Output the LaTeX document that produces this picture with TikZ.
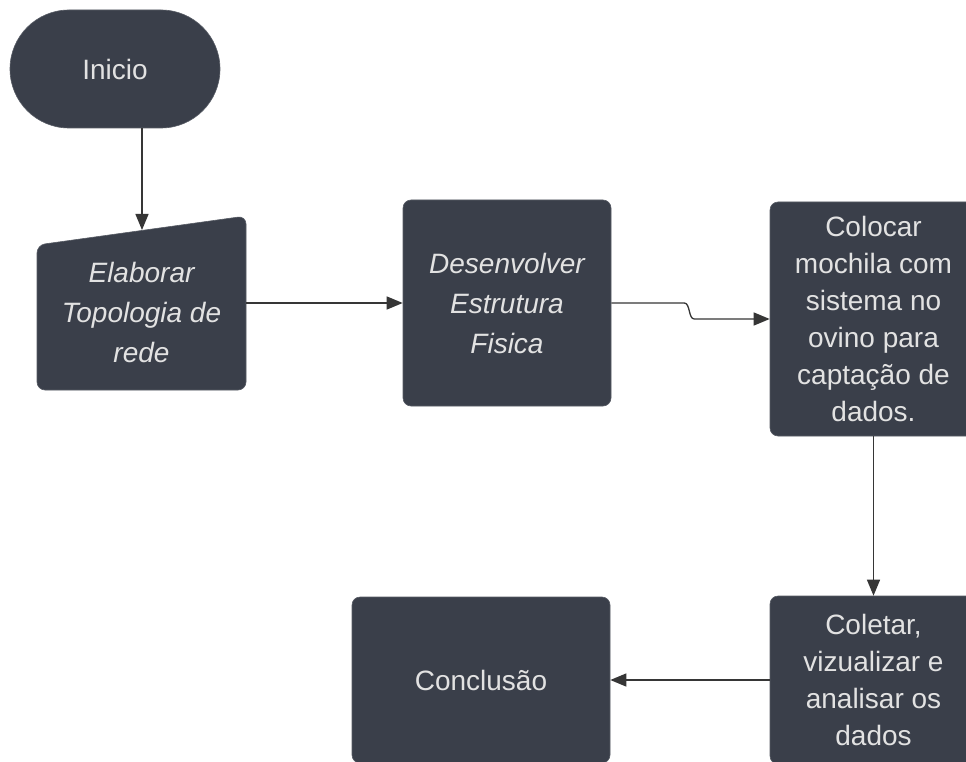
\documentclass[tikz,border=0pt]{standalone}
\usepackage{fontspec}
\setmainfont{Liberation Sans}
\usetikzlibrary{arrows.meta}
\definecolor{boxfill}{HTML}{3A3F4A}
\definecolor{boxtext}{HTML}{E2E2E2}
\definecolor{linecol}{HTML}{363636}
\tikzset{
  stepbox/.style={fill=boxfill, draw=boxfill!85!white, line width=0.6pt, rounded corners=8pt,
    text=boxtext, align=center, inner sep=0pt, font=\fontsize{28}{37}\selectfont},
  slanted/.style={font=\itshape\fontsize{28}{40}\selectfont},
  flow/.style={draw=linecol, line width=1.3pt, -{Triangle[length=16pt,width=13pt]}},
}

\begin{document}
\begin{tikzpicture}[x=1pt,y=-1pt]
    \useasboundingbox[fill=white] (0,0) rectangle (966,762);
    \clip (0,0) rectangle (966,762);
    % terminal
    \node[stepbox, rounded corners=59pt, minimum width=210pt, minimum height=118pt] (inicio) at (115,69) {Inicio};
    % manual input shape
    \filldraw[fill=boxfill, draw=boxfill!85!white, line width=0.6pt, rounded corners=8pt] (37,245) -- (246,216) -- (246,390) -- (37,390) -- cycle;
    \node[text=boxtext, align=center, inner sep=0pt, slanted, minimum width=209pt] (elab) at (141.5,312) {Elaborar\\Topologia de\\rede};
    \coordinate (elabtop) at (142,230);
    \node[stepbox, slanted, minimum width=208pt, minimum height=206pt] (des) at (507,303) {Desenvolver\\Estrutura\\Fisica};
    \node[stepbox, minimum width=207pt, minimum height=234pt] (col) at (873.5,319) {Colocar\\mochila com\\sistema no\\ovino para\\capta\c{c}\~ao de\\dados.};
    \node[stepbox, minimum width=207pt, minimum height=168pt] (colet) at (873.5,680) {Coletar,\\vizualizar e\\analisar os\\dados};
    \node[stepbox, minimum width=258pt, minimum height=166pt] (concl) at (481,680) {Conclus\~ao};
    % connectors
    \draw[flow] (inicio.south -| elabtop) -- (elabtop);
    \draw[flow] (elab.east |- des.west) -- (des.west);
    \draw[flow] (des.east) -- ++(73,0) .. controls +(6,0) and +(-6,0) .. ++(10,16) -- (col.west);
    \draw[flow] (col.south) -- (colet.north);
    \draw[flow] (colet.west) -- (concl.east);
\end{tikzpicture}
\end{document}
